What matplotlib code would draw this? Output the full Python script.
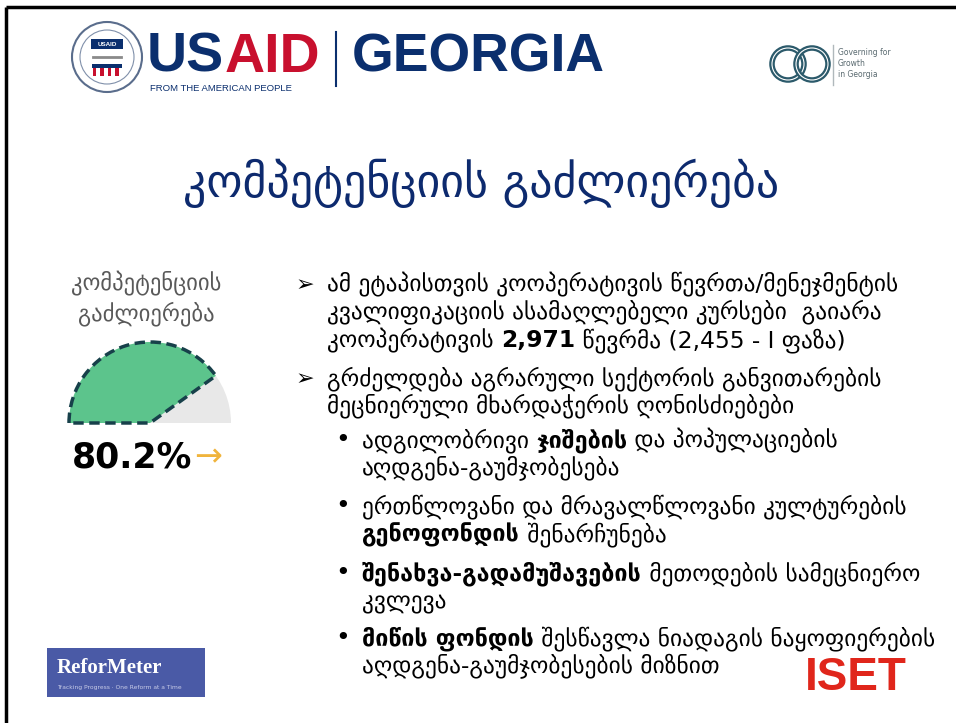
import matplotlib
matplotlib.use("Agg")
import matplotlib.pyplot as plt
from matplotlib.patches import Wedge, Circle, Rectangle

# ---- data ----
gauge_label = ["კომპეტენციის", "გაძლიერება"]
gauge_value = 80.2
gauge_max = 100.0
slide_title = "კომპეტენციის გაძლიერება"

bullet1 = [
    [("ამ ეტაპისთვის კოოპერატივის წევრთა/მენეჯმენტის", False)],
    [("კვალიფიკაციის ასამაღლებელი კურსები  გაიარა", False)],
    [("კოოპერატივის ", False), ("2,971", True), (" წევრმა (2,455 - I ფაზა)", False)],
]
bullet2 = [
    [("გრძელდება აგრარული სექტორის განვითარების", False)],
    [("მეცნიერული მხარდაჭერის ღონისძიებები", False)],
]
sub_bullets = [
    [[("ადგილობრივი ", False), ("ჯიშების", True), (" და პოპულაციების", False)],
     [("აღდგენა-გაუმჯობესება", False)]],
    [[("ერთწლოვანი და მრავალწლოვანი კულტურების", False)],
     [("გენოფონდის", True), (" შენარჩუნება", False)]],
    [[("შენახვა-გადამუშავების", True), (" მეთოდების სამეცნიერო", False)],
     [("კვლევა", False)]],
    [[("მიწის ფონდის", True), (" შესწავლა ნიადაგის ნაყოფიერების", False)],
     [("აღდგენა-გაუმჯობესების მიზნით", False)]],
]

plt.rcParams['font.family'] = ['DejaVu Sans']
fig = plt.figure(figsize=(9.56, 7.23), dpi=100)
ax = fig.add_axes([0, 0, 1, 1])
ax.set_xlim(0, 956)
ax.set_ylim(723, 0)
ax.axis('off')
renderer = fig.canvas.get_renderer()

# slide border (left & top)
ax.plot([6, 6], [723, 7], color='black', lw=2.5, solid_capstyle='butt')
ax.plot([6, 956], [7, 7], color='black', lw=2.5, solid_capstyle='butt')

# ---- USAID logo ----
navy = '#0b2f6e'
red = '#c8102e'
ax.add_patch(Circle((107, 57), 35, facecolor='#ffffff', edgecolor='#5a6d8c', lw=1.5))
ax.add_patch(Circle((107, 57), 27, facecolor='white', edgecolor='#8090aa', lw=0.8))
ax.add_patch(Rectangle((91, 39), 32, 10, facecolor=navy))
ax.text(107, 44, "USAID", color='white', fontsize=4.5, fontweight='bold', ha='center', va='center', family='Liberation Sans')
ax.plot([93, 121], [57, 57], color='#8a8a8a', lw=2)
ax.add_patch(Rectangle((92, 64), 30, 4, facecolor=navy))
for i in range(4):
    ax.add_patch(Rectangle((93 + i * 7.5, 68), 3.5, 8, facecolor=red))
t = ax.text(147, 72, "US", color=navy, fontsize=40, fontweight='bold', family='Liberation Sans', va='baseline')
w = t.get_window_extent(renderer).width
ax.text(147 + w, 72, "AID", color=red, fontsize=40, fontweight='bold', family='Liberation Sans', va='baseline')
ax.text(150, 91, "FROM THE AMERICAN PEOPLE", color=navy, fontsize=6.8, family='Liberation Sans', va='baseline')
ax.plot([336, 336], [32, 86], color=navy, lw=1.5)
ax.text(352, 72, "GEORGIA", color=navy, fontsize=38.5, fontweight='bold', family='Liberation Sans', va='baseline')

# ---- Governing for Growth logo ----
teal = '#2c5a6b'
for cxr in (788, 812):
    ax.add_patch(Circle((cxr, 64), 16, facecolor='none', edgecolor=teal, lw=4))
    ax.add_patch(Circle((cxr, 64), 16, facecolor='none', edgecolor='white', lw=0.8))
ax.plot([833, 833], [45, 85], color='#b0b8bc', lw=1)
for i, s in enumerate(["Governing for", "Growth", "in Georgia"]):
    ax.text(838, 55 + i * 11, s, color='#5a6a70', fontsize=5.5, va='baseline')

# ---- Title ----
ax.text(481, 197, slide_title, color='#0d2a6e', fontsize=33, ha='center', va='baseline')

# ---- Gauge ----
cx, cy, r = 150, 423, 81
for i, s in enumerate(gauge_label):
    ax.text(cx - 4, 290 + i * 30, s, color='#595959', fontsize=16.3, ha='center', va='baseline')
# y axis is inverted: angles 180..360 lie above the centre
fill_span = 180 * gauge_value / gauge_max
ax.add_patch(Wedge((cx, cy), r, 180, 360, facecolor='#e8e8e8', edgecolor='none'))
ax.add_patch(Wedge((cx, cy), r, 180, 180 + fill_span, facecolor='#5cc48c',
                   edgecolor='#17404a', lw=2.5, linestyle=(0, (3, 1.6))))
ax.text(72, 468, f"{gauge_value:.1f}%", color='black', fontsize=25, fontweight='bold', va='baseline')
ax.text(194, 466, "→", color='#f0b43c', fontsize=24, va='baseline')

# ---- bullets ----
fs = 16.8

def draw_line(x, y, segs):
    for s, b in segs:
        t = ax.text(x, y, s, fontsize=fs, fontweight='bold' if b else 'normal',
                    color='black', va='baseline')
        x += t.get_window_extent(renderer).width

y0 = [291, 318, 347]
ax.text(296, y0[0], "➢", fontsize=16, va='baseline', fontweight='bold')
for y, segs in zip(y0, bullet1):
    draw_line(327, y, segs)
y1 = [385, 412]
ax.text(296, y1[0], "➢", fontsize=16, va='baseline', fontweight='bold')
for y, segs in zip(y1, bullet2):
    draw_line(327, y, segs)

sub_y = [[447, 474], [513, 541], [580, 607], [645, 673]]
for ys, lines in zip(sub_y, sub_bullets):
    ax.text(335, ys[0], "•", fontsize=18, va='baseline')
    for y, segs in zip(ys, lines):
        draw_line(362, y, segs)

# ---- ReforMeter logo ----
ax.add_patch(Rectangle((47, 648), 158, 49, facecolor='#4a5aa6'))
ax.text(57, 673, "ReforMeter", color='white', fontsize=15, fontweight='bold', family='Liberation Serif', va='baseline')
ax.text(57, 689, "Tracking Progress · One Reform at a Time", color='#c8cce8', fontsize=4.3, va='baseline')

# ---- ISET ----
ax.text(805, 690, "ISET", color='#e0261b', fontsize=33, fontweight='bold', family='Liberation Sans', va='baseline')

fig.savefig("out.png", dpi=100)
